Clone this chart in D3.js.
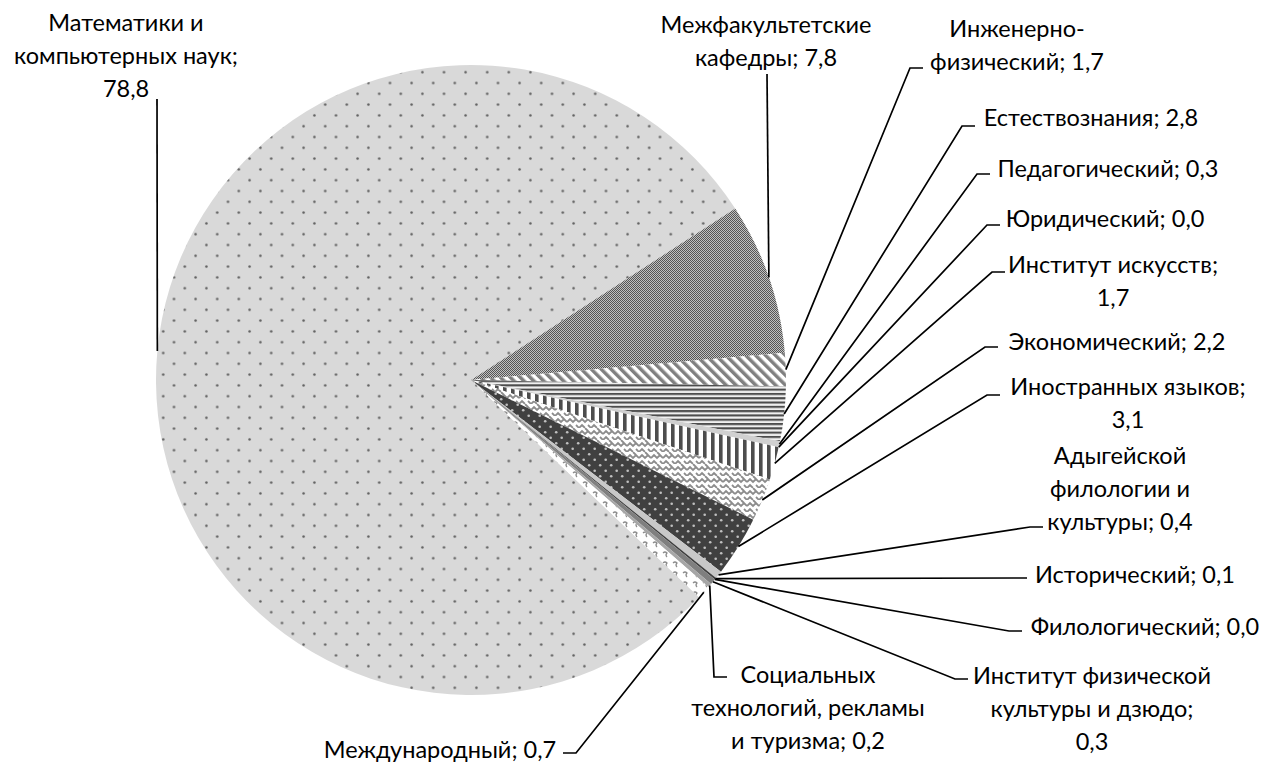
<!DOCTYPE html>
<html>
<head>
<meta charset="utf-8">
<script src="https://cdn.jsdelivr.net/npm/d3@7"></script>
<style>
  body { margin: 0; background: #fff; }
  text { font-family: Lato, 'Open Sans', sans-serif; font-size: 23.5px; fill: #000; }
</style>
</head>
<body>
<div id="chart"></div>
<script>
// Chart data (clockwise, starting with the big slice)
const categories = [
  'Математики и компьютерных наук',
  'Межфакультетские кафедры',
  'Инженерно-физический',
  'Естествознания',
  'Педагогический',
  'Юридический',
  'Институт искусств',
  'Экономический',
  'Иностранных языков',
  'Адыгейской филологии и культуры',
  'Исторический',
  'Филологический',
  'Институт физической культуры и дзюдо',
  'Социальных технологий, рекламы и туризма',
  'Международный'
];
const values = [78.8, 7.8, 1.7, 2.8, 0.3, 0.0, 1.7, 2.2, 3.1, 0.4, 0.1, 0.0, 0.3, 0.2, 0.7];

// Layout
const width = 1266, height = 782;
const cx = 471, cy = 380, radius = 315;
const startDeg = 133.6;
const lineHeight = 33;

// label anchor: text centre x, first baseline y, leader end (ex, ey)
const labelPos = [
  { x: 126, y: 31, ex: 157, ey: 99, kind: 'v' },
  { x: 766, y: 33, ex: 767, ey: 74, kind: 'v' },
  { x: 1017, y: 37, ex: 923, ey: 68, kind: 'r' },
  { x: 1091, y: 126, ex: 975, ey: 126, kind: 'r' },
  { x: 1108, y: 177, ex: 990, ey: 174, kind: 'r' },
  { x: 1105, y: 227, ex: 1000, ey: 225, kind: 'r' },
  { x: 1113, y: 273, ex: 1005, ey: 272, kind: 'r' },
  { x: 1117, y: 350, ex: 998, ey: 347, kind: 'r' },
  { x: 1128, y: 395, ex: 1000, ey: 395, kind: 'r' },
  { x: 1120, y: 464, ex: 1043, ey: 527, kind: 'r' },
  { x: 1135, y: 583, ex: 1027, ey: 578, kind: 'r' },
  { x: 1145, y: 635, ex: 1022, ey: 631, kind: 'r' },
  { x: 1092, y: 684, ex: 968, ey: 679, kind: 'r' },
  { x: 808, y: 683, ex: 727, ey: 677, kind: 'r' },
  { x: 440, y: 758, ex: 563, ey: 753, kind: 'l' }
];

const fills = ['url(#p-math)', 'url(#p-check)', 'url(#p-diag)', 'url(#p-hor)', '#d0d0d0', '#d0d0d0',
  'url(#p-vert)', 'url(#p-weave)', 'url(#p-darkdots)', '#c8c8c8', '#404040', '#808080',
  '#7f7f7f', '#a6a6a6', 'url(#p-marks)'];

const svg = d3.select('#chart')
    .append('svg')
    .attr('width', width)
    .attr('height', height);

// pattern fills, roughly like the office ones
const defs = svg.append('defs');

let p = defs.append('pattern').attr('id', 'p-math')
    .attr('patternUnits', 'userSpaceOnUse').attr('width', 21.6).attr('height', 21.6);
p.append('rect').attr('width', 21.6).attr('height', 21.6).attr('fill', '#d9d9d9');
p.append('circle').attr('cx', 5.4).attr('cy', 5.4).attr('r', 1.25).attr('fill', '#5e5e5e');
p.append('circle').attr('cx', 16.2).attr('cy', 16.2).attr('r', 1.25).attr('fill', '#5e5e5e');

p = defs.append('pattern').attr('id', 'p-check')
    .attr('patternUnits', 'userSpaceOnUse').attr('width', 2).attr('height', 2);
p.append('rect').attr('width', 2).attr('height', 2).attr('fill', '#555');
p.append('rect').attr('width', 1).attr('height', 1).attr('fill', '#c0c0c0');
p.append('rect').attr('x', 1).attr('y', 1).attr('width', 1).attr('height', 1).attr('fill', '#c0c0c0');

p = defs.append('pattern').attr('id', 'p-diag')
    .attr('patternUnits', 'userSpaceOnUse').attr('width', 7).attr('height', 7)
    .attr('patternTransform', 'rotate(-45)');
p.append('rect').attr('width', 7).attr('height', 7).attr('fill', '#fff');
p.append('rect').attr('width', 3.5).attr('height', 7).attr('fill', '#808080');

p = defs.append('pattern').attr('id', 'p-hor')
    .attr('patternUnits', 'userSpaceOnUse').attr('width', 4).attr('height', 4.3);
p.append('rect').attr('width', 4).attr('height', 4.3).attr('fill', '#f0f0f0');
p.append('rect').attr('width', 4).attr('height', 2.1).attr('fill', '#4d4d4d');

p = defs.append('pattern').attr('id', 'p-vert')
    .attr('patternUnits', 'userSpaceOnUse').attr('width', 8).attr('height', 8);
p.append('rect').attr('width', 8).attr('height', 8).attr('fill', '#fff');
p.append('rect').attr('width', 3.6).attr('height', 8).attr('fill', '#4d4d4d');

p = defs.append('pattern').attr('id', 'p-weave')
    .attr('patternUnits', 'userSpaceOnUse').attr('width', 12).attr('height', 12);
p.append('rect').attr('width', 12).attr('height', 12).attr('fill', '#fff');
p.append('path').attr('d', 'M0,6 L3,3 L6,6 L9,3 L12,6 M0,12 L3,9 L6,12 M6,0 L9,3 M9,9 L12,12')
    .attr('fill', 'none').attr('stroke', '#8c8c8c').attr('stroke-width', 1.8);

p = defs.append('pattern').attr('id', 'p-darkdots')
    .attr('patternUnits', 'userSpaceOnUse').attr('width', 11).attr('height', 11);
p.append('rect').attr('width', 11).attr('height', 11).attr('fill', '#404040');
p.append('circle').attr('cx', 2.7).attr('cy', 2.7).attr('r', 1.3).attr('fill', '#c0c0c0');
p.append('circle').attr('cx', 8.2).attr('cy', 8.2).attr('r', 1.3).attr('fill', '#c0c0c0');

p = defs.append('pattern').attr('id', 'p-marks')
    .attr('patternUnits', 'userSpaceOnUse').attr('width', 10).attr('height', 10);
p.append('rect').attr('width', 10).attr('height', 10).attr('fill', '#fff');
p.append('path').attr('d', 'M2,3 q2,-2 4,0 q-2,2 0,4')
    .attr('fill', 'none').attr('stroke', '#8c8c8c').attr('stroke-width', 1.2);

// Pie
const data = categories.map((c, i) => ({ name: c, value: values[i], index: i }));
const start = startDeg * Math.PI / 180;
const pie = d3.pie().sort(null).value(d => d.value)
    .startAngle(start).endAngle(start + 2 * Math.PI);
const arcs = pie(data);

const arc = d3.arc().innerRadius(0).outerRadius(radius);
const rim = d3.arc().innerRadius(radius).outerRadius(radius);

const g = svg.append('g').attr('transform', 'translate(' + cx + ',' + cy + ')');

g.selectAll('path.slice')
    .data(arcs)
    .enter().append('path')
    .attr('class', 'slice')
    .attr('d', arc)
    .attr('fill', d => fills[d.data.index]);

// Label text: "name; value", wrapped at 19 characters
const fmt = v => d3.format('.1f')(v).replace('.', ',');

function wrap(str, maxChars) {
    // split on spaces, and after hyphens
    const tokens = [];
    str.split(' ').forEach((w, i) => {
        const parts = w.split(/(?<=-)/);
        parts.forEach((pt, j) => tokens.push({ t: pt, sp: i > 0 && j === 0 }));
    });
    const lines = [];
    let cur = '';
    tokens.forEach(tok => {
        const next = cur === '' ? tok.t : cur + (tok.sp ? ' ' : '') + tok.t;
        if (cur !== '' && next.length > maxChars) {
            lines.push(cur);
            cur = tok.t;
        } else {
            cur = next;
        }
    });
    if (cur) lines.push(cur);
    return lines;
}

// Leader lines
svg.selectAll('path.leader')
    .data(arcs)
    .enter().append('path')
    .attr('class', 'leader')
    .attr('fill', 'none')
    .attr('stroke', '#000')
    .attr('stroke-width', 1.7)
    .attr('d', d => {
        const lp = labelPos[d.data.index];
        const c = rim.centroid(d);
        const x0 = cx + c[0], y0 = cy + c[1];
        if (lp.kind === 'v') return 'M' + x0 + ',' + y0 + 'L' + lp.ex + ',' + lp.ey;
        if (lp.kind === 'r') return 'M' + x0 + ',' + y0 + 'L' + (lp.ex - 13) + ',' + lp.ey + 'L' + lp.ex + ',' + lp.ey;
        return 'M' + x0 + ',' + y0 + 'L' + (lp.ex + 13) + ',' + lp.ey + 'L' + lp.ex + ',' + lp.ey;
    });

// Labels
const labels = svg.selectAll('text.label')
    .data(arcs)
    .enter().append('text')
    .attr('class', 'label')
    .attr('text-anchor', 'middle');

labels.each(function(d) {
    const lp = labelPos[d.data.index];
    const lines = wrap(d.data.name + '; ' + fmt(d.data.value), 19);
    d3.select(this).selectAll('tspan')
        .data(lines)
        .enter().append('tspan')
        .attr('x', lp.x)
        .attr('y', (l, i) => lp.y + i * lineHeight)
        .text(l => l);
});
</script>
</body>
</html>
